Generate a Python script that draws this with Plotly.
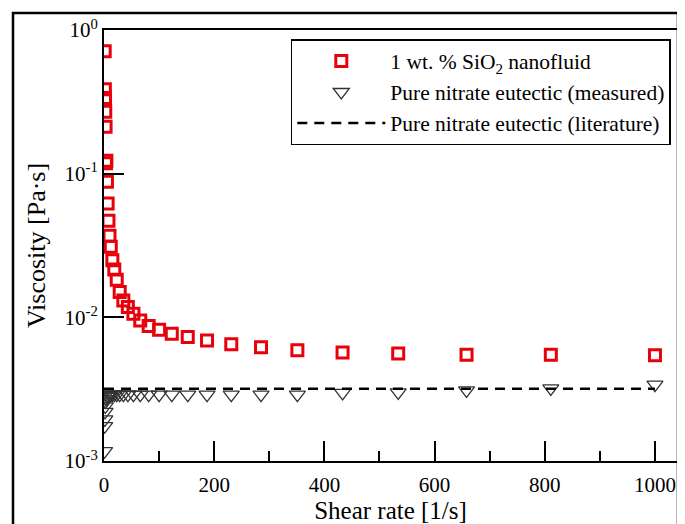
import plotly.graph_objects as go

# Shear rate values [1/s]
shear_nano = [1.23, 1.52, 1.87, 2.31, 2.85, 3.51, 4.33, 5.34, 6.58, 8.11, 10.0, 12.3,
              15.2, 18.7, 23.1, 28.5, 35.1, 43.3, 53.4, 65.8, 81.1, 100, 123, 152,
              187, 231, 285, 351, 433, 534, 658, 811, 1000]
visc_nano = [0.71, 0.387, 0.336, 0.27, 0.212, 0.118, 0.123, 0.088, 0.062, 0.047, 0.037, 0.031,
             0.025, 0.0215, 0.0183, 0.015, 0.0131, 0.0118, 0.0106, 0.0095, 0.0087, 0.0082, 0.0077, 0.0073,
             0.0069, 0.0065, 0.0062, 0.0059, 0.0057, 0.0056, 0.0055, 0.0055, 0.00545]

shear_pure = [1.0, 1.23, 1.52, 1.87, 2.31, 2.85, 3.51, 4.33, 5.34, 6.58, 8.11, 10.0, 12.3,
              15.2, 18.7, 23.1, 28.5, 35.1, 43.3, 53.4, 65.8, 81.1, 100, 123, 152,
              187, 231, 285, 351, 433, 534, 658, 811, 1000]
visc_pure = [0.00117, 0.00175, 0.00195, 0.0022, 0.0024, 0.0026, 0.0027, 0.0027, 0.0028, 0.0028,
             0.00285, 0.0029, 0.0029, 0.0029, 0.0029, 0.0029, 0.0029, 0.0029, 0.0029, 0.0029,
             0.0029, 0.0029, 0.0029, 0.0029, 0.0029, 0.0029, 0.0029, 0.0029, 0.0029, 0.00298,
             0.0030, 0.0031, 0.0032, 0.0034]

shear_lit = [0, 1000]
visc_lit = [0.00318, 0.00318]

x_tickvals = [0, 200, 400, 600, 800, 1000]
x_ticktext = ["0", "200", "400", "600", "800", "1000"]
y_tickvals = [0.001, 0.01, 0.1, 1]
y_ticktext = ["10<sup>-3</sup>", "10<sup>-2</sup>", "10<sup>-1</sup>", "10<sup>0</sup>"]

FONT = "Liberation Serif, Times New Roman, serif"
RED = "#e8000b"

fig = go.Figure()
fig.add_trace(go.Scatter(
    x=shear_nano, y=visc_nano, mode="markers",
    name="1 wt. % SiO<sub>2</sub> nanofluid",
    marker=dict(symbol="square-open", size=11, color=RED, line=dict(width=3, color=RED)),
))
fig.add_trace(go.Scatter(
    x=shear_pure, y=visc_pure, mode="markers",
    name="Pure nitrate eutectic (measured)",
    marker=dict(symbol="triangle-down-open", size=14, color="#333333", line=dict(width=1.3, color="#333333")),
))
fig.add_trace(go.Scatter(
    x=shear_lit, y=visc_lit, mode="lines",
    name="Pure nitrate eutectic (literature)",
    line=dict(color="black", width=2.5, dash="10px,7px"),
))

# page body has an 8px offset; figure sized so the plot area sits at the reference pixels
fig.update_layout(
    width=677, height=516,
    margin=dict(l=96, r=8, t=22, b=63),
    paper_bgcolor="white", plot_bgcolor="white",
    font=dict(family=FONT, size=21, color="black"),
    showlegend=True,
    legend=dict(
        x=0.326, y=0.979, xanchor="left", yanchor="top",
        bgcolor="white", bordercolor="black", borderwidth=1.5,
        font=dict(family=FONT, size=21.5, color="black"),
        itemwidth=88, tracegroupgap=3,
    ),
    xaxis=dict(
        range=[0, 1040], showline=True, mirror=True, linecolor="black", linewidth=2,
        showgrid=False, zeroline=False, automargin=False,
        tickvals=x_tickvals, ticktext=x_ticktext,
        ticks="inside", ticklen=20, tickwidth=2, tickcolor="black",
        ticklabelstandoff=4,
        minor=dict(dtick=100, tick0=0, ticks="inside", ticklen=10, tickwidth=2, tickcolor="black", showgrid=False),
        tickfont=dict(family=FONT, size=21),
        title=dict(text="Shear rate [1/s]", font=dict(family=FONT, size=25), standoff=3),
    ),
    yaxis=dict(
        type="log", range=[-3, 0], showline=True, mirror=True, linecolor="black", linewidth=2,
        showgrid=False, zeroline=False, automargin=False,
        tickvals=y_tickvals, ticktext=y_ticktext,
        ticks="inside", ticklen=20, tickwidth=2, tickcolor="black",
        tickfont=dict(family=FONT, size=21),
        title=dict(text="Viscosity [Pa·s]", font=dict(family=FONT, size=26), standoff=11),
    ),
    shapes=[dict(
        type="rect", xref="paper", yref="paper",
        x0=-0.1588, x1=1.0017, y0=-0.2, y1=1.0394,
        line=dict(color="black", width=2.5), fillcolor="rgba(0,0,0,0)", layer="above",
    )],
)

fig.write_html("out.html")
